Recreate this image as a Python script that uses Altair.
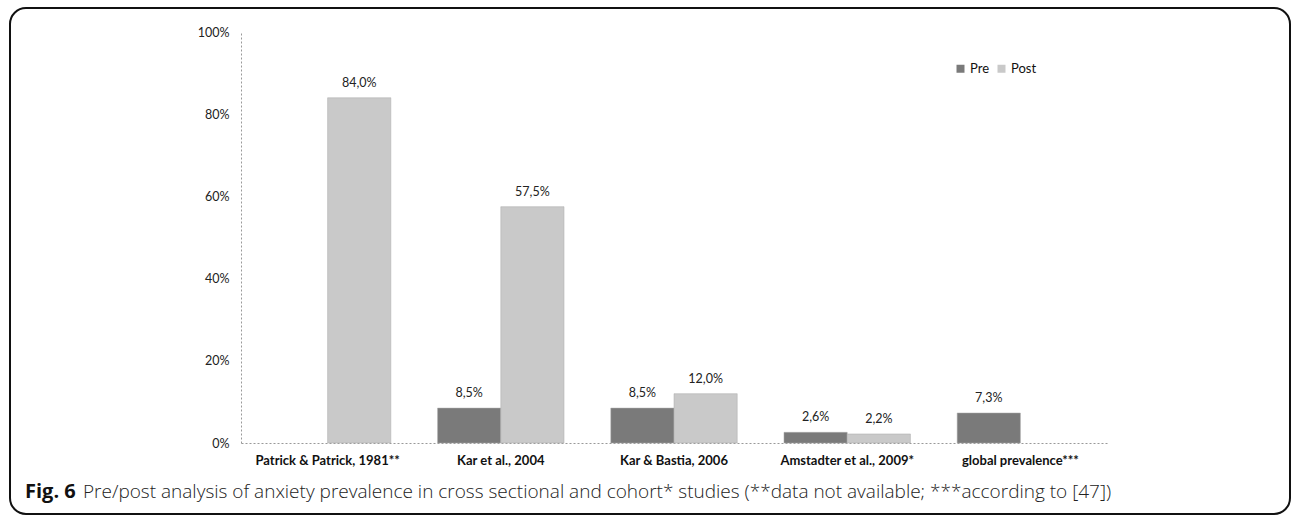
import altair as alt
import pandas as pd

categories = ["Patrick & Patrick, 1981**", "Kar et al., 2004", "Kar & Bastia, 2006",
              "Amstadter et al., 2009*", "global prevalence***"]
series = ["Pre", "Post"]
pre_values = [None, 0.085, 0.085, 0.026, 0.073]
post_values = [0.840, 0.575, 0.120, 0.022, None]

rows = []
for c, pre, post in zip(categories, pre_values, post_values):
    for s, v in (("Pre", pre), ("Post", post)):
        if v is not None:
            rows.append({"study": c, "series": s, "value": v,
                         "label": f"{v*100:.1f}%".replace(".", ",")})
df = pd.DataFrame(rows)

W, H = 866, 411
FONT = "Lato"

x_enc = alt.X("study:N", sort=categories, title=None,
              scale=alt.Scale(paddingInner=0.27, paddingOuter=0.135),
              axis=alt.Axis(labelAngle=0, labelFont=FONT, labelFontSize=13,
                            labelFontWeight="bold", labelColor="#111",
                            labelPadding=11, ticks=False,
                            domainColor="#999", domainDash=[2, 2], domainWidth=1))
xoff = alt.XOffset("series:N", sort=series, scale=alt.Scale(domain=series, paddingInner=0))
y_enc = alt.Y("value:Q", title=None,
              scale=alt.Scale(domain=[0, 1], nice=False),
              axis=alt.Axis(format=".0%", values=[0, 0.2, 0.4, 0.6, 0.8, 1.0],
                            labelFont=FONT, labelFontSize=12.5, labelColor="#222",
                            labelPadding=12, ticks=False, grid=False,
                            domainColor="#999", domainDash=[2, 2], domainWidth=1))

bars = alt.Chart(df).mark_bar(stroke="#aaaaaa", strokeWidth=0.5).encode(
    x=x_enc, xOffset=xoff, y=y_enc,
    color=alt.Color("series:N", sort=series,
                    scale=alt.Scale(domain=series, range=["#7a7a7a", "#c9c9c9"]),
                    legend=alt.Legend(title=None, orient="none", direction="horizontal",
                                      legendX=713, legendY=30, symbolType="square",
                                      symbolSize=64, symbolStrokeWidth=0,
                                      labelFont=FONT, labelFontSize=13,
                                      labelColor="#111", labelOffset=3,
                                      columnPadding=5)),
)

labels = alt.Chart(df).mark_text(font=FONT, fontSize=12.5, color="#222",
                                 baseline="alphabetic", dy=-11).encode(
    x=alt.X("study:N", sort=categories), xOffset=xoff,
    y=alt.Y("value:Q"), text="label:N",
)

frame_df = pd.DataFrame({"k": [0]})
frame = alt.Chart(frame_df).mark_rect(fill=None, stroke="#111", strokeWidth=2,
                                      cornerRadius=16, clip=False).encode(
    x=alt.value(-231), x2=alt.value(1049), y=alt.value(-24), y2=alt.value(482))

cap_bold = alt.Chart(frame_df).mark_text(text="Fig. 6", font="Open Sans", fontSize=20,
                                         fontWeight="bold", align="left",
                                         baseline="alphabetic", color="#111").encode(
    x=alt.value(-216), y=alt.value(466))
cap_rest = alt.Chart(frame_df).mark_text(
    text="Pre/post analysis of anxiety prevalence in cross sectional and cohort* studies (**data not available; ***according to [47])",
    font="Open Sans", fontSize=19, fontWeight=300, align="left",
    baseline="alphabetic", color="#222").encode(
    x=alt.value(-158), y=alt.value(466))

chart = alt.layer(bars, labels, frame, cap_bold, cap_rest).properties(
    width=W, height=H,
    background="white",
    autosize=alt.AutoSizeParams(type="none"),
    padding={"left": 241, "top": 32, "right": 185, "bottom": 74},
).configure_view(stroke=None)

chart.save("out.html", embed_options={"renderer": "svg", "actions": False})
